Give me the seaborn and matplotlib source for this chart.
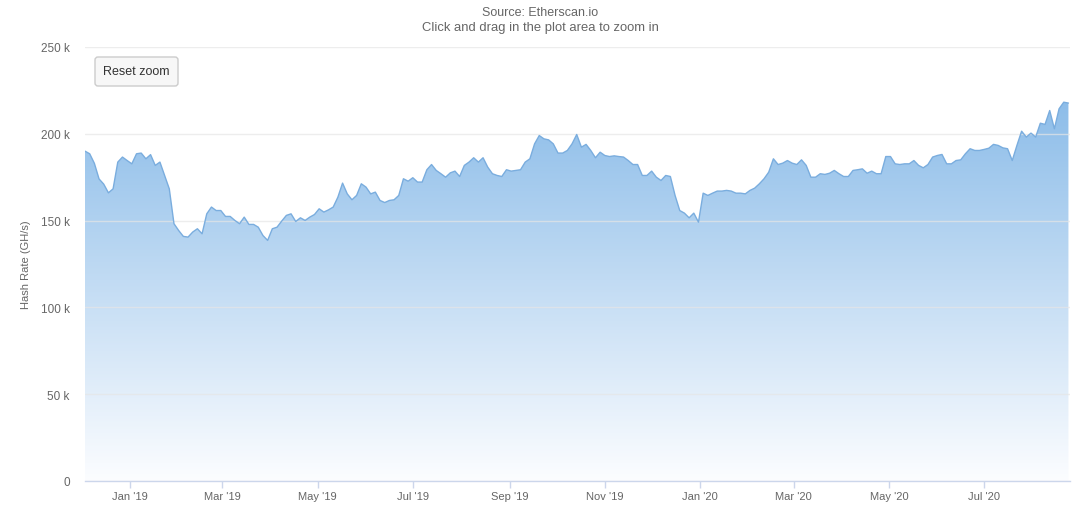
import numpy as np
import pandas as pd
import seaborn as sns
import matplotlib
matplotlib.use("Agg")
import matplotlib.pyplot as plt
import matplotlib.dates as mdates
from matplotlib.colors import LinearSegmentedColormap
from matplotlib.patches import FancyBboxPatch
from matplotlib.transforms import IdentityTransform

# Ethereum network hash rate, in thousands of GH/s, one reading every 3 days
start_date = "2018-12-03"
step = "3D"
hash_rate_k = [
    190, 188.5, 183, 174, 171, 166, 168.3, 183.7, 186.6, 184.6,
    182.7, 188.5, 188.9, 185.6, 188, 181.8, 183.7, 176, 168.3, 148.2,
    144.3, 140.9, 140.5, 143.4, 145.3, 142.4, 153.9, 157.8, 155.8, 155.8,
    152.4, 152.4, 150.1, 148.2, 152, 147.8, 147.8, 146.2, 141.4, 138.6,
    145.3, 146.2, 149.7, 153, 153.9, 149.5, 151.6, 150.1, 152, 153.5,
    156.8, 154.9, 156.2, 157.8, 163.5, 171.6, 165.4, 162, 164.5, 171.2,
    169.3, 165.4, 166.4, 161.6, 160.4, 161.6, 162, 164.5, 174.1, 172.7,
    174.7, 172.2, 172.2, 179.3, 182.3, 178.9, 177, 175, 177.5, 178.5,
    175.4, 181.8, 183.7, 186.2, 183.7, 186.2, 180.8, 177, 176, 175.4,
    179.3, 178.5, 178.9, 179.3, 183.7, 185.6, 194.2, 199, 197.1, 196.5,
    194.2, 188.9, 188.9, 190.4, 194.2, 199.6, 192.3, 193.9, 190.4, 186.2,
    189.4, 187.5, 186.9, 187.3, 186.9, 186.6, 184.6, 182.3, 182.3, 176,
    176, 178.5, 175, 173.1, 176, 175.4, 164.5, 155.8, 154.3, 151.6,
    154.3, 149.1, 165.8, 164.5, 165.8, 167, 167, 167.4, 167, 165.8,
    165.8, 165.4, 167.4, 168.7, 171.2, 174.1, 177.9, 185.6, 182.3, 183.1,
    184.6, 183.1, 182.3, 185, 181.8, 175, 175, 177, 176.6, 177.3,
    178.9, 177, 175.4, 175.4, 178.9, 179.3, 179.8, 177.3, 178.5, 177,
    177, 186.9, 186.9, 182.7, 182.3, 182.7, 182.7, 184.6, 181.8, 180.4,
    182.3, 186.6, 187.5, 188.1, 182.7, 182.7, 184.6, 185, 188.5, 191.4,
    190.4, 190.4, 191, 191.7, 193.9, 193.3, 191.9, 191.4, 184.6, 193.3,
    201.5, 198.1, 200.4, 198.1, 206.1, 205.4, 213.4, 202.9, 214.4, 218.2,
    217.7,
]

y_ticks = [0, 50, 100, 150, 200, 250]
y_tick_labels = ["0", "50 k", "100 k", "150 k", "200 k", "250 k"]
x_tick_months = [1, 3, 5, 7, 9, 11]

df = pd.DataFrame({
    "date": pd.date_range(start_date, periods=len(hash_rate_k), freq=step),
    "hash_rate": hash_rate_k,
})

sns.set_theme(style="white")
plt.rcParams["font.family"] = ["Liberation Sans", "DejaVu Sans"]

W, H = 1080, 506
fig = plt.figure(figsize=(W / 100, H / 100), dpi=100)
ax = fig.add_axes([85 / W, 24 / H, 985 / W, 434 / H])

# line on top, gradient fill underneath
sns.lineplot(data=df, x="date", y="hash_rate", ax=ax, color="#7aadde",
             linewidth=1.0, zorder=3)
poly = ax.fill_between(df["date"], df["hash_rate"], 0, color="none", linewidth=0)
xnum = mdates.date2num(df["date"])
cmap = LinearSegmentedColormap.from_list("hr", ["#fcfdff", "#8dbde9"])
grad = np.linspace(0, 1, 256).reshape(-1, 1)
im = ax.imshow(grad, extent=[xnum[0], xnum[-1], 0, max(hash_rate_k)],
               origin="lower", aspect="auto", cmap=cmap, zorder=2)
im.set_clip_path(poly.get_paths()[0], transform=ax.transData)

ax.set_xlim(xnum[0], xnum[0] + 631)
ax.set_ylim(0, 250)

ax.set_yticks(y_ticks)
ax.set_yticklabels(y_tick_labels)
ax.set_axisbelow(False)
ax.yaxis.grid(True, color="#e6e6e6", linewidth=1, alpha=0.7)

ax.xaxis.set_major_locator(mdates.MonthLocator(bymonth=x_tick_months))
ax.xaxis.set_major_formatter(mdates.DateFormatter("%b '%y"))

for side in ["top", "right", "left"]:
    ax.spines[side].set_visible(False)
ax.spines["bottom"].set_color("#ccd6eb")
ax.spines["bottom"].set_linewidth(1)

ax.tick_params(axis="y", length=0, pad=11, labelsize=8.5, labelcolor="#666666")
ax.tick_params(axis="x", bottom=True, length=5, width=1, color="#ccd6eb",
               pad=2, labelsize=8, labelcolor="#666666", direction="out")

ax.set_xlabel("")
ax.set_ylabel("Hash Rate (GH/s)", fontsize=8, color="#666666")
ax.yaxis.set_label_coords(-54 / 985, 0.5)

fig.text(0.5, 1 - 13 / H, "Source: Etherscan.io", ha="center", va="center",
         fontsize=9, color="#666666")
fig.text(0.5, 1 - 28 / H, "Click and drag in the plot area to zoom in",
         ha="center", va="center", fontsize=9.4, color="#666666")

# "Reset zoom" button
btn = FancyBboxPatch((95, H - 87), 83, 29, boxstyle="round,pad=0,rounding_size=3",
                     facecolor="#f7f7f7", edgecolor="#cccccc", linewidth=1,
                     transform=IdentityTransform())
fig.add_artist(btn)
fig.text(136.5 / W, 1 - 72.5 / H, "Reset zoom", ha="center", va="center",
         fontsize=9, color="#333333")

fig.savefig("out.png", dpi=100)
